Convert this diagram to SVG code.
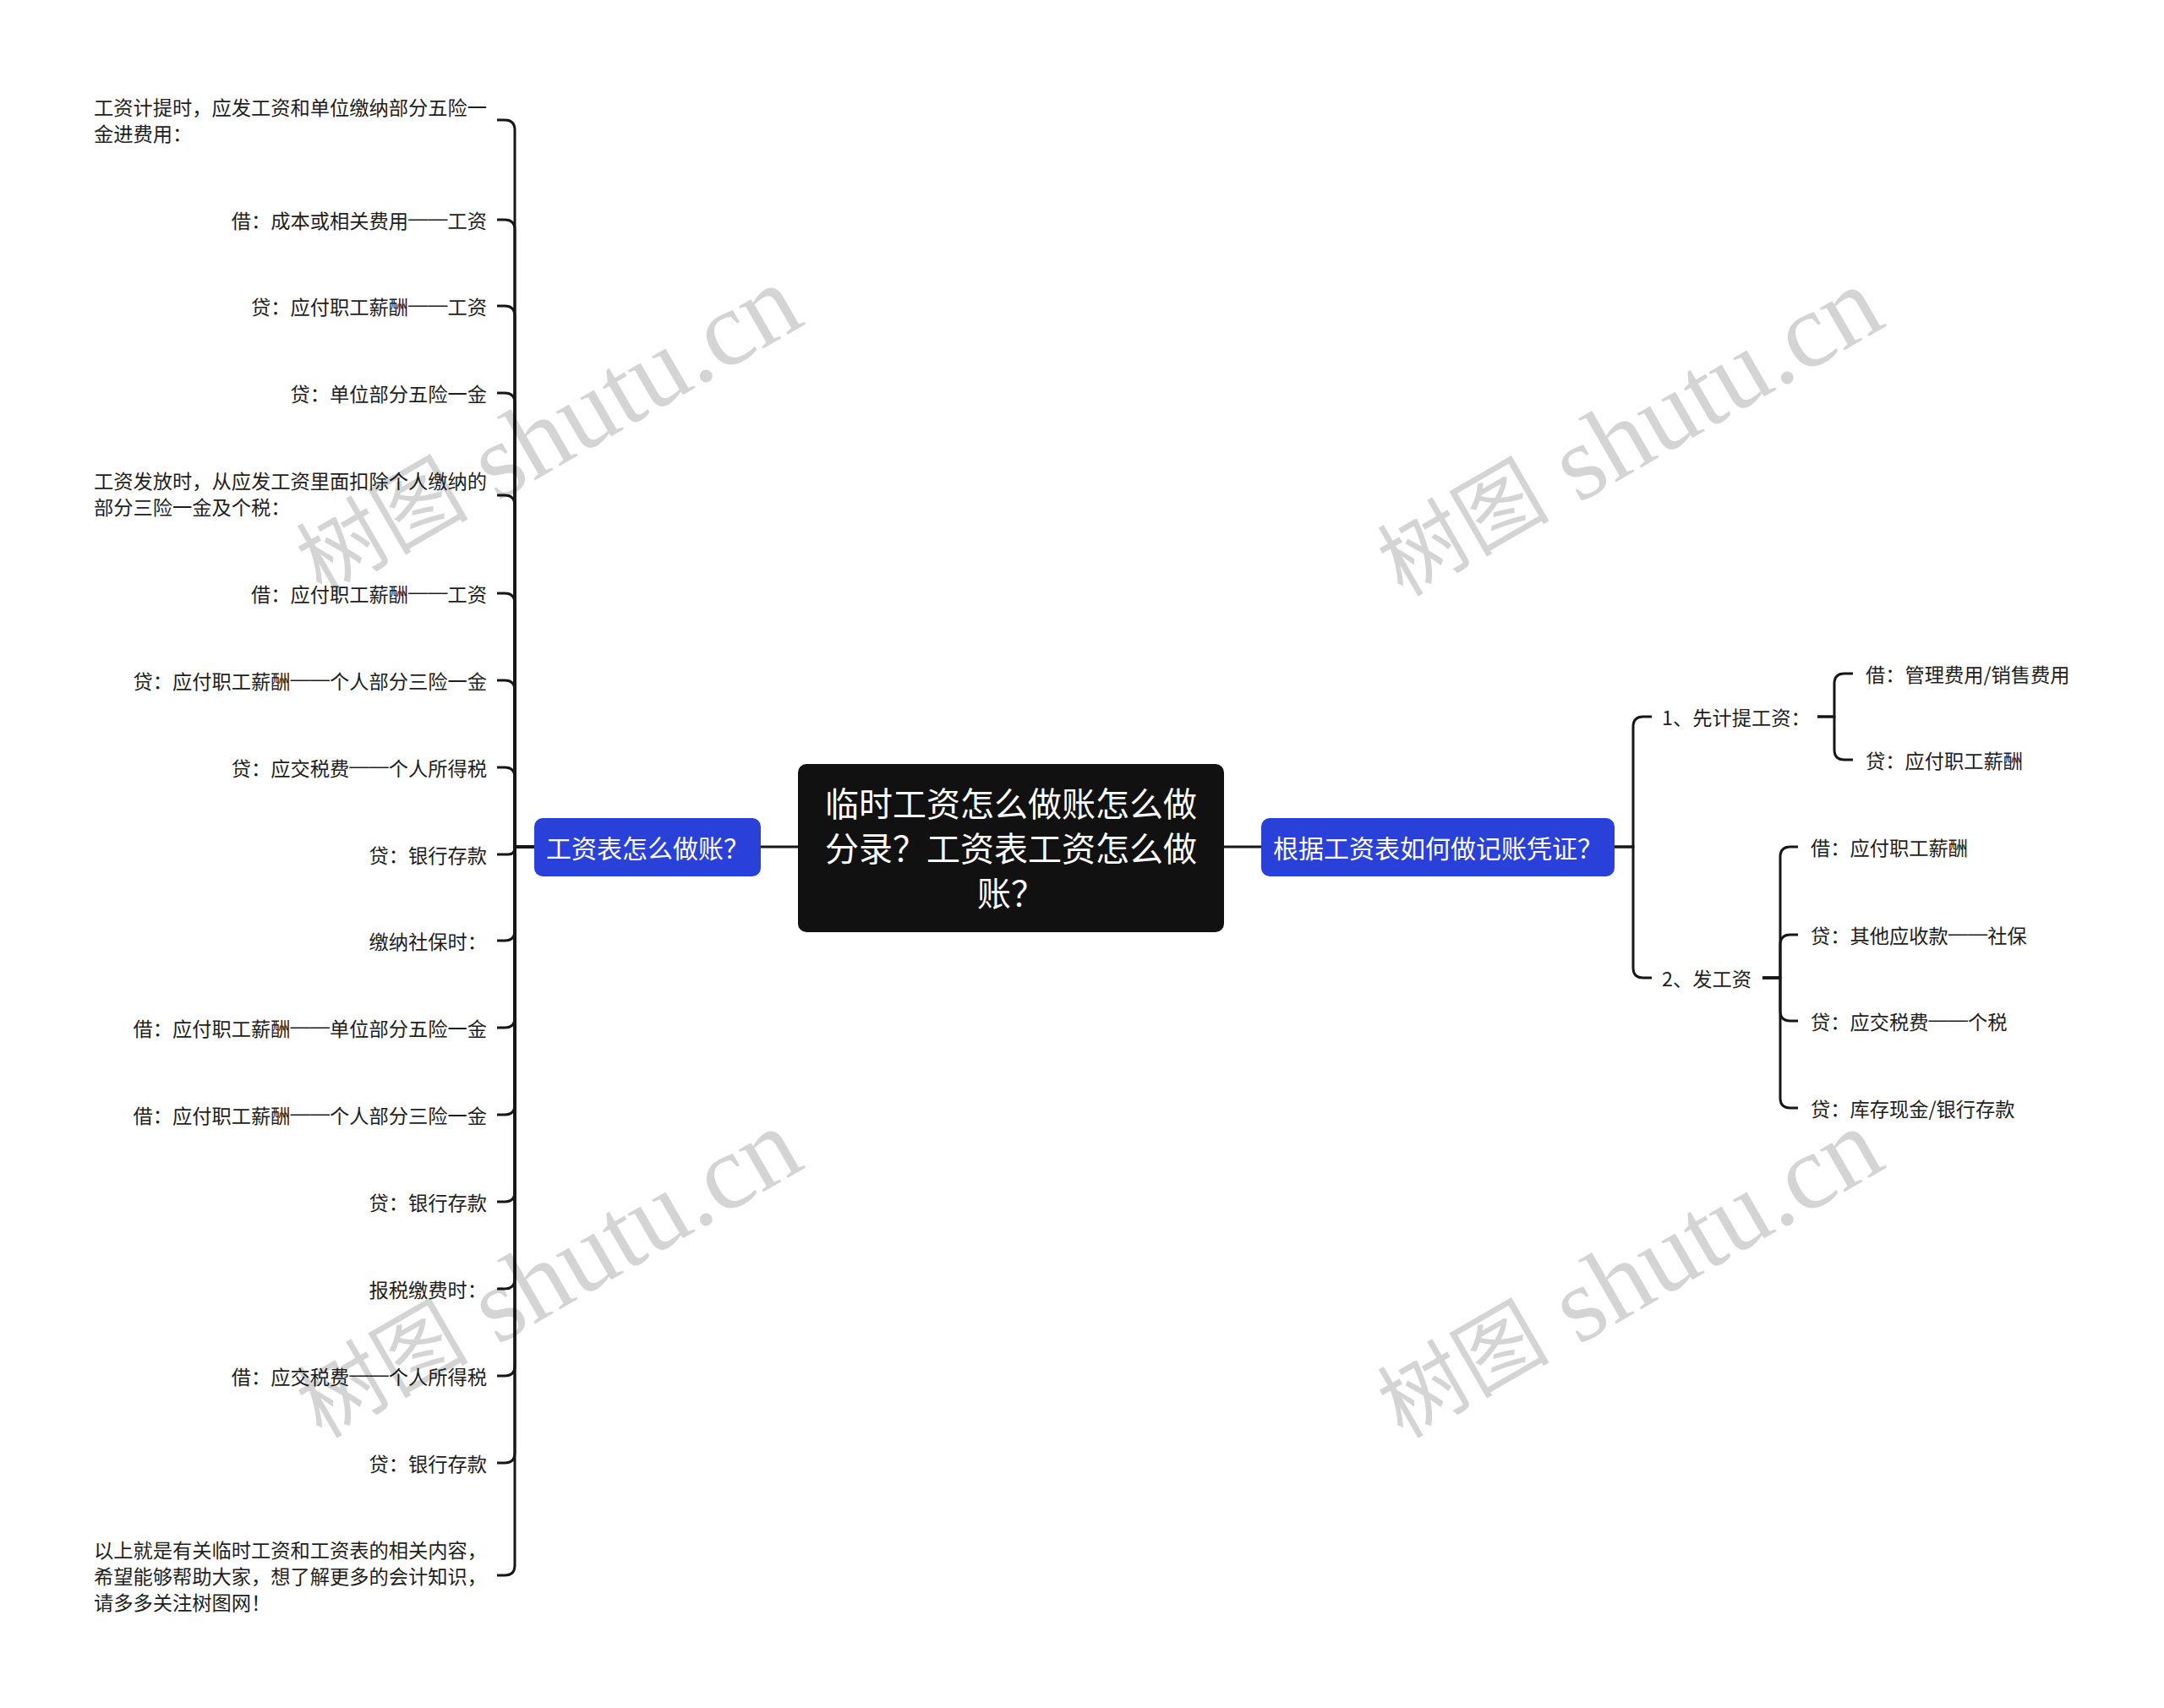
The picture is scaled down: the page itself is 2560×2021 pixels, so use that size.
<svg xmlns="http://www.w3.org/2000/svg" width="2560" height="2021" viewBox="0 0 2560 2021">
<style>
.bg{fill:#ffffff}
.conn path{fill:none;stroke:#161616;stroke-width:3;stroke-linecap:butt;stroke-linejoin:round}
.t{font-family:"Noto Sans CJK SC","Noto Sans",sans-serif;font-size:23.25px;fill:#1e1e1e;dominant-baseline:central}
.r{text-anchor:end}
.d{font-family:"Liberation Sans",sans-serif;baseline-shift:2px}
.root rect{fill:#111111}
.root text{font-family:"Noto Sans CJK SC","Noto Sans",sans-serif;font-size:40px;fill:#ffffff;text-anchor:middle;dominant-baseline:central}
.blue rect{fill:#2941d8}
.blue text{font-family:"Noto Sans CJK SC","Noto Sans",sans-serif;font-size:30px;fill:#ffffff;text-anchor:middle;dominant-baseline:central}
.wm text{font-family:"Liberation Serif","Noto Sans CJK SC",serif;fill:#000000;fill-opacity:0.17;text-anchor:middle;dominant-baseline:central}
.wm .cj{font-size:102px}
.wm .la{font-size:126px}
</style>
<rect class="bg" x="0" y="0" width="2560" height="2021"/>

<g class="conn" id="connectors">
  <path d="M1448 1002 H1492"/>
  <path d="M944 1002 H900"/>
  <path d="M632 1002 H609 V154 Q609 142 597 142 H588"/>
  <path d="M632 1002 H609 V272 Q609 260 597 260 H588"/>
  <path d="M632 1002 H609 V374 Q609 362 597 362 H588"/>
  <path d="M632 1002 H609 V477 Q609 465 597 465 H588"/>
  <path d="M632 1002 H609 V598 Q609 586 597 586 H588"/>
  <path d="M632 1002 H609 V714 Q609 702 597 702 H588"/>
  <path d="M632 1002 H609 V817 Q609 805 597 805 H588"/>
  <path d="M632 1002 H609 V920 Q609 908 597 908 H588"/>
  <path d="M632 1002 H609 V1003 Q609 1011 601 1011 H588"/>
  <path d="M632 1002 H609 V1101 Q609 1113 597 1113 H588"/>
  <path d="M632 1002 H609 V1204 Q609 1216 597 1216 H588"/>
  <path d="M632 1002 H609 V1307 Q609 1319 597 1319 H588"/>
  <path d="M632 1002 H609 V1410 Q609 1422 597 1422 H588"/>
  <path d="M632 1002 H609 V1513 Q609 1525 597 1525 H588"/>
  <path d="M632 1002 H609 V1616 Q609 1628 597 1628 H588"/>
  <path d="M632 1002 H609 V1719 Q609 1731 597 1731 H588"/>
  <path d="M632 1002 H609 V1852 Q609 1864 597 1864 H588"/>
  <path d="M1910 1002 H1932 V860 Q1932 848 1944 848 H1954"/>
  <path d="M1910 1002 H1932 V1145 Q1932 1157 1944 1157 H1954"/>
  <path d="M2150 848 H2170 V809 Q2170 797 2182 797 H2192"/>
  <path d="M2150 848 H2170 V887 Q2170 899 2182 899 H2192"/>
  <path d="M2085 1157 H2106 V1014 Q2106 1002 2118 1002 H2127"/>
  <path d="M2085 1157 H2106 V1118 Q2106 1106 2118 1106 H2127"/>
  <path d="M2085 1157 H2106 V1196 Q2106 1208 2118 1208 H2127"/>
  <path d="M2085 1157 H2106 V1299 Q2106 1311 2118 1311 H2127"/>
</g>

<g id="root" class="root">
  <rect x="944" y="904" width="504" height="199" rx="10" ry="10"/>
  <text x="1196" y="949">临时工资怎么做账怎么做</text>
  <text x="1196" y="1002">分录？工资表工资怎么做</text>
  <text x="1196" y="1055">账？</text>
</g>

<g id="node-left" class="blue">
  <rect x="632" y="968" width="268" height="69" rx="10" ry="10"/>
  <text x="766" y="1002">工资表怎么做账？</text>
</g>

<g id="node-right" class="blue">
  <rect x="1492" y="968" width="418" height="69" rx="10" ry="10"/>
  <text x="1701" y="1002">根据工资表如何做记账凭证？</text>
</g>

<g id="l1"><text class="t" x="111" y="126">工资计提时，应发工资和单位缴纳部分五险一</text><text class="t" x="111" y="157">金进费用：</text></g>
<g id="l2"><text class="t r" x="576" y="260">借：成本或相关费用<tspan class="d">——</tspan>工资</text></g>
<g id="l3"><text class="t r" x="576" y="362">贷：应付职工薪酬<tspan class="d">——</tspan>工资</text></g>
<g id="l4"><text class="t r" x="576" y="465">贷：单位部分五险一金</text></g>
<g id="l5"><text class="t" x="111" y="568">工资发放时，从应发工资里面扣除个人缴纳的</text><text class="t" x="111" y="599">部分三险一金及个税：</text></g>
<g id="l6"><text class="t r" x="576" y="702">借：应付职工薪酬<tspan class="d">——</tspan>工资</text></g>
<g id="l7"><text class="t r" x="576" y="805">贷：应付职工薪酬<tspan class="d">——</tspan>个人部分三险一金</text></g>
<g id="l8"><text class="t r" x="576" y="908">贷：应交税费<tspan class="d">——</tspan>个人所得税</text></g>
<g id="l9"><text class="t r" x="576" y="1011">贷：银行存款</text></g>
<g id="l10"><text class="t r" x="576" y="1113">缴纳社保时：</text></g>
<g id="l11"><text class="t r" x="576" y="1216">借：应付职工薪酬<tspan class="d">——</tspan>单位部分五险一金</text></g>
<g id="l12"><text class="t r" x="576" y="1319">借：应付职工薪酬<tspan class="d">——</tspan>个人部分三险一金</text></g>
<g id="l13"><text class="t r" x="576" y="1422">贷：银行存款</text></g>
<g id="l14"><text class="t r" x="576" y="1525">报税缴费时：</text></g>
<g id="l15"><text class="t r" x="576" y="1628">借：应交税费<tspan class="d">——</tspan>个人所得税</text></g>
<g id="l16"><text class="t r" x="576" y="1731">贷：银行存款</text></g>
<g id="l17"><text class="t" x="111" y="1833">以上就是有关临时工资和工资表的相关内容，</text><text class="t" x="111" y="1864">希望能够帮助大家，想了解更多的会计知识，</text><text class="t" x="111" y="1895">请多多关注树图网！</text></g>

<g id="r1"><text class="t" x="1966" y="848">1、先计提工资：</text></g>
<g id="r1a"><text class="t" x="2207" y="797">借：管理费用/销售费用</text></g>
<g id="r1b"><text class="t" x="2207" y="899">贷：应付职工薪酬</text></g>
<g id="r2"><text class="t" x="1966" y="1157">2、发工资</text></g>
<g id="r2a"><text class="t" x="2142" y="1002">借：应付职工薪酬</text></g>
<g id="r2b"><text class="t" x="2142" y="1106">贷：其他应收款<tspan class="d">——</tspan>社保</text></g>
<g id="r2c"><text class="t" x="2142" y="1208">贷：应交税费<tspan class="d">——</tspan>个税</text></g>
<g id="r2d"><text class="t" x="2142" y="1311">贷：库存现金/银行存款</text></g>

<g class="wm" id="watermarks">
  <text x="648" y="510" transform="rotate(-30 648 510)"><tspan class="cj">树图</tspan><tspan class="la"> shutu.cn</tspan></text>
  <text x="1927" y="512" transform="rotate(-30 1927 512)"><tspan class="cj">树图</tspan><tspan class="la"> shutu.cn</tspan></text>
  <text x="648" y="1508" transform="rotate(-30 648 1508)"><tspan class="cj">树图</tspan><tspan class="la"> shutu.cn</tspan></text>
  <text x="1927" y="1508" transform="rotate(-30 1927 1508)"><tspan class="cj">树图</tspan><tspan class="la"> shutu.cn</tspan></text>
</g>
</svg>
